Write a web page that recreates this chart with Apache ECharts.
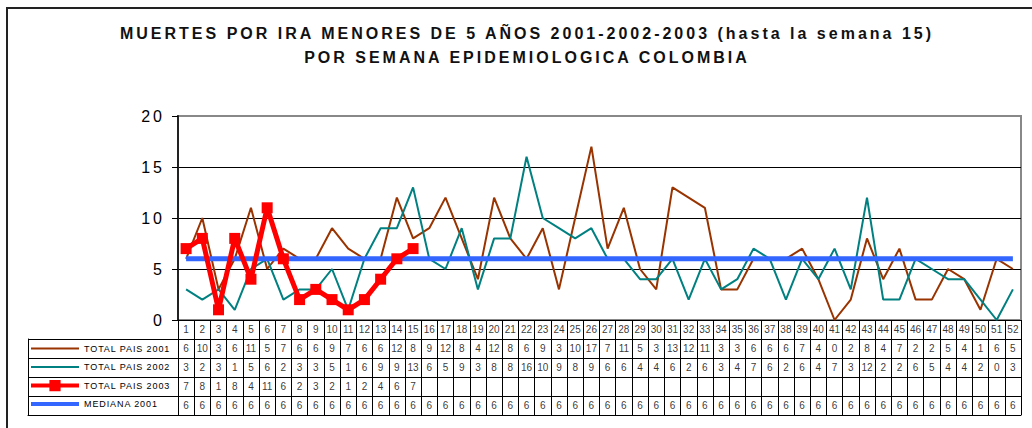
<!DOCTYPE html>
<html><head><meta charset="utf-8">
<script src="https://cdn.jsdelivr.net/npm/echarts@6/dist/echarts.min.js"></script>
<style>
html,body{margin:0;padding:0;background:#fff;}
#c{width:1032px;height:428px;}
#c text[style*="spacedA"]{letter-spacing:3px;}
#c text[style*="spacedB"]{letter-spacing:0.9px;}
</style></head><body><div id="c"></div>
<script>
const weeks = ['1','2','3','4','5','6','7','8','9','10','11','12','13','14','15','16','17','18','19','20','21','22','23','24','25','26','27','28','29','30','31','32','33','34','35','36','37','38','39','40','41','42','43','44','45','46','47','48','49','50','51','52'];
const total2001 = [6,10,3,6,11,5,7,6,6,9,7,6,6,12,8,9,12,8,4,12,8,6,9,3,10,17,7,11,5,3,13,12,11,3,3,6,6,6,7,4,0,2,8,4,7,2,2,5,4,1,6,5];
const total2002 = [3,2,3,1,5,6,2,3,3,5,1,6,9,9,13,6,5,9,3,8,8,16,10,9,8,9,6,6,4,4,6,2,6,3,4,7,6,2,6,4,7,3,12,2,2,6,5,4,4,2,0,3];
const total2003 = [7,8,1,8,4,11,6,2,3,2,1,2,4,6,7];
const mediana2001 = [6,6,6,6,6,6,6,6,6,6,6,6,6,6,6,6,6,6,6,6,6,6,6,6,6,6,6,6,6,6,6,6,6,6,6,6,6,6,6,6,6,6,6,6,6,6,6,6,6,6,6,6];
const seriesNames = ['TOTAL PAIS 2001','TOTAL PAIS 2002','TOTAL PAIS 2003','MEDIANA 2001'];
const tableRowKeys = ['SEMANA','TOTAL PAIS 2001','TOTAL PAIS 2002','TOTAL PAIS 2003','MEDIANA 2001'];
const titleText = 'MUERTES POR IRA MENORES DE 5 AÑOS 2001-2002-2003 (hasta la semana 15)\nPOR SEMANA EPIDEMIOLOGICA COLOMBIA';

const tableRows = [weeks, total2001, total2002, total2003, mediana2001];
const tableData = [];
tableRows.forEach((arr, r) => arr.forEach((v, i) => tableData.push([i, r, v])));

const FF = 'Liberation Sans';
const black = '#000';
const hiddenSym = {color: 'rgba(0,0,0,0)', opacity: 0, borderWidth: 0};
const chart = echarts.init(document.getElementById('c'), null, {renderer: 'svg'});
chart.setOption({
  animation: false,
  backgroundColor: '#fff',
  title: {
    text: titleText, left: 522, textAlign: 'center', top: 16,
    textStyle: {fontSize: 16, fontWeight: 'bold', color: '#111', lineHeight: 24, fontFamily: FF + ', spacedA'}
  },
  legend: {
    data: [
      {name: seriesNames[0], itemStyle: hiddenSym, lineStyle: {width: 2}},
      {name: seriesNames[1], itemStyle: hiddenSym, lineStyle: {width: 2}},
      {name: seriesNames[2], lineStyle: {width: 4}},
      {name: seriesNames[3], itemStyle: hiddenSym, lineStyle: {width: 4}}
    ],
    orient: 'vertical', left: 29, top: 343, padding: 0,
    itemWidth: 48, itemHeight: 14, itemGap: 7.3, selectedMode: false,
    textStyle: {fontSize: 9, color: black, fontFamily: FF + ', spacedB'}
  },
  graphic: [{
    type: 'rect', z: -1, silent: true,
    shape: {x: 7, y: 8, width: 1100, height: 500},
    style: {fill: 'none', stroke: '#222', lineWidth: 2}
  }],
  grid: [
    {left: 178, right: 11, top: 116, height: 204, show: true, borderColor: '#888', borderWidth: 2, backgroundColor: '#fff'},
    {left: 178, right: 11, top: 320, height: 95},
    {left: 28, width: 150, top: 339, height: 76}
  ],
  xAxis: [
    {type: 'category', gridIndex: 0, data: weeks, boundaryGap: true,
     axisLine: {lineStyle: {color: black, width: 1}}, axisTick: {show: false}, axisLabel: {show: false}, splitLine: {show: false}},
    {type: 'category', gridIndex: 1, data: weeks, boundaryGap: true,
     axisLine: {show: true, lineStyle: {color: black, width: 1}}, axisTick: {show: false}, axisLabel: {show: false},
     splitLine: {show: true, interval: 0, lineStyle: {color: black, width: 1}}},
    {type: 'value', gridIndex: 2, min: 0, max: 1,
     axisLine: {show: true, lineStyle: {color: black, width: 1}}, axisTick: {show: false}, axisLabel: {show: false}, splitLine: {show: false}}
  ],
  yAxis: [
    {type: 'value', gridIndex: 0, min: 0, max: 20, interval: 5,
     axisLine: {show: true, lineStyle: {color: '#222', width: 2}},
     axisTick: {show: true, length: 6, lineStyle: {color: black}},
     axisLabel: {fontSize: 16, color: black, margin: 13, fontFamily: FF + ', spacedA'},
     splitLine: {show: true, showMaxLine: false, lineStyle: {color: black, width: 1}}},
    {type: 'category', gridIndex: 1, data: tableRowKeys, inverse: true,
     axisLine: {show: true, lineStyle: {color: black, width: 1}}, axisTick: {show: false}, axisLabel: {show: false},
     splitLine: {show: true, interval: 0, lineStyle: {color: black, width: 1}}},
    {type: 'category', gridIndex: 2, data: seriesNames, inverse: true,
     axisLine: {show: true, lineStyle: {color: black, width: 1}}, axisTick: {show: false}, axisLabel: {show: false},
     splitLine: {show: true, interval: 0, lineStyle: {color: black, width: 1}}}
  ],
  series: [
    {name: seriesNames[0], type: 'line', xAxisIndex: 0, yAxisIndex: 0, data: total2001, symbol: 'none', z: 2,
     lineStyle: {color: '#993300', width: 2}, itemStyle: {color: '#993300'}},
    {name: seriesNames[1], type: 'line', xAxisIndex: 0, yAxisIndex: 0, data: total2002, symbol: 'none', z: 2,
     lineStyle: {color: '#008080', width: 2}, itemStyle: {color: '#008080'}},
    {name: seriesNames[2], type: 'line', xAxisIndex: 0, yAxisIndex: 0, data: total2003, symbol: 'rect', symbolSize: 11,
     showSymbol: true, showAllSymbol: true, z: 4,
     lineStyle: {color: '#ff0000', width: 5}, itemStyle: {color: '#ff0000'}},
    {name: seriesNames[3], type: 'line', xAxisIndex: 0, yAxisIndex: 0, data: mediana2001, symbol: 'none', z: 3,
     lineStyle: {color: '#3366ff', width: 5}, itemStyle: {color: '#3366ff'}},
    {name: 'tabla', type: 'scatter', xAxisIndex: 1, yAxisIndex: 1, data: tableData, symbolSize: 1, silent: true,
     itemStyle: {color: 'rgba(0,0,0,0)'},
     label: {show: true, position: 'inside', formatter: p => String(p.value[2]), fontSize: 10, color: black, fontFamily: FF}}
  ]
});
</script></body></html>
